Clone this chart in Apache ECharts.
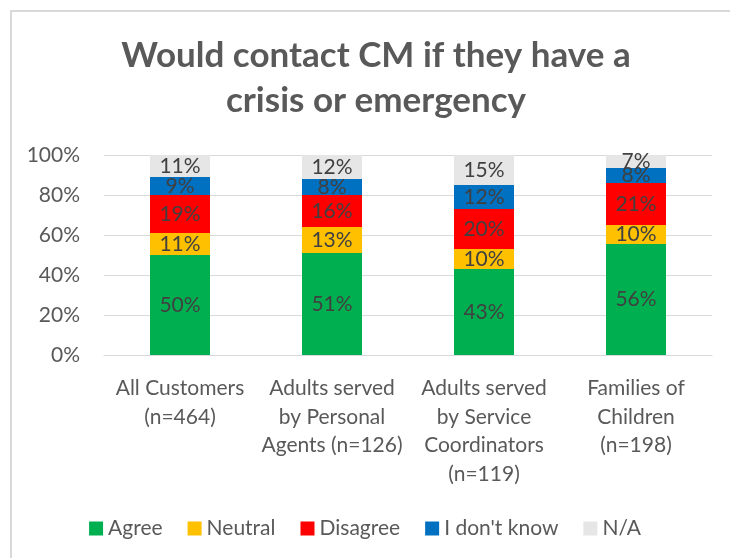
<!DOCTYPE html>
<html><head><meta charset="utf-8">
<script src="https://cdn.jsdelivr.net/npm/echarts@6/dist/echarts.min.js"></script>
<style>html,body{margin:0;padding:0;background:#fff}#c{width:730px;height:558px}</style>
</head><body><div id="c"></div>
<script>
const categories = ["All Customers\n(n=464)", "Adults served\nby Personal\nAgents (n=126)", "Adults served\nby Service\nCoordinators\n(n=119)", "Families of\nChildren\n(n=198)"];
const agree = [50, 51, 43, 55.5];
const neutral = [11, 13, 10, 9.5];
const disagree = [19, 16, 20, 21];
const dontKnow = [9, 8, 12, 7.5];
const na = [11, 12, 15, 6.5];
const seriesNames = ["Agree", "Neutral", "Disagree", "I don't know", "N/A"];
const colors = ["#00b050", "#ffc000", "#ff0000", "#0070c0", "#e7e6e6"];
const yTicks = [0, 20, 40, 60, 80, 100];

const FONT = "Lato";
const chart = echarts.init(document.getElementById('c'));
const data = [agree, neutral, disagree, dontKnow, na];
chart.setOption({
  animation: false,
  textStyle: {fontFamily: FONT},
  title: {
    text: "Would contact CM if they have a\ncrisis or emergency",
    left: 371, top: 28, textAlign: 'center',
    textStyle: {fontFamily: FONT, fontSize: 35, fontWeight: 'bold', color: '#595959', lineHeight: 45}
  },
  legend: {
    bottom: 14, left: 'center', itemWidth: 14, itemHeight: 14, itemGap: 25,
    icon: 'rect',
    textStyle: {fontFamily: FONT, fontSize: 21, color: '#595959'},
    data: seriesNames
  },
  graphic: [
    {type: 'line', shape: {x1: 11, y1: 10, x2: 11, y2: 558}, style: {stroke: '#d9d9d9', lineWidth: 2}},
    {type: 'line', shape: {x1: 10, y1: 11, x2: 730, y2: 11}, style: {stroke: '#d9d9d9', lineWidth: 2}}
  ],
  grid: {left: 104, right: 18, top: 155, bottom: 203},
  xAxis: {
    type: 'category', data: categories,
    axisLine: {lineStyle: {color: '#d9d9d9', width: 1}},
    axisTick: {show: false},
    axisLabel: {fontFamily: FONT, fontSize: 21, color: '#595959', lineHeight: 28.5, margin: 19, interval: 0}
  },
  yAxis: {
    type: 'value', min: 0, max: 100, interval: 20,
    axisLine: {show: false}, axisTick: {show: false},
    splitLine: {lineStyle: {color: '#d9d9d9', width: 1}},
    axisLabel: {fontFamily: FONT, fontSize: 21, color: '#595959', margin: 24,
      formatter: v => yTicks.includes(v) ? v + '%' : ''}
  },
  series: seriesNames.map((n, i) => ({
    name: n, type: 'bar', stack: 'total', barWidth: 60,
    itemStyle: {color: colors[i]},
    label: {show: true, position: 'inside', fontFamily: FONT, fontSize: 21, color: '#404040',
      formatter: p => Math.round(p.value) + '%'},
    data: data[i]
  }))
});
</script></body></html>
